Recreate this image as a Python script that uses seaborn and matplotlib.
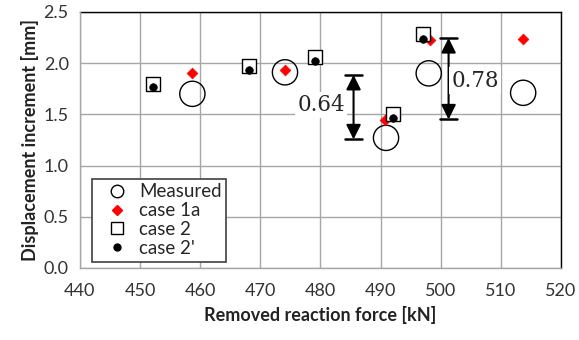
import matplotlib
matplotlib.use("Agg")
import matplotlib.pyplot as plt
import seaborn as sns
import pandas as pd
from matplotlib.lines import Line2D

# Data
measured_x = [458.7, 474.1, 490.9, 498.0, 513.7]
measured_y = [1.70, 1.91, 1.27, 1.90, 1.71]
case1a_x = [458.7, 474.1, 490.7, 498.2, 513.6]
case1a_y = [1.90, 1.93, 1.44, 2.23, 2.24]
case2_x = [452.1, 468.1, 479.1, 492.1, 497.1]
case2_y = [1.80, 1.975, 2.06, 1.50, 2.285]
case2p_x = [452.1, 468.1, 479.1, 492.1, 497.1]
case2p_y = [1.765, 1.93, 2.02, 1.46, 2.24]

arrow1_x = 485.5
arrow1_y = [1.255, 1.885]
arrow1_label = "0.64"
arrow2_x = 501.3
arrow2_y = [1.45, 2.245]
arrow2_label = "0.78"

x_ticks = [440, 450, 460, 470, 480, 490, 500, 510, 520]
y_ticks = [0.0, 0.5, 1.0, 1.5, 2.0, 2.5]

sns.set_style("white")
plt.rcParams['font.family'] = ['Lato', 'DejaVu Sans']

fig = plt.figure(figsize=(5.79, 3.40), dpi=100)
ax = fig.add_axes([0.138, 0.212, 0.831, 0.753])

grid_c = "#A6A6A6"
ax.set_xlim(440, 520)
ax.set_ylim(0, 2.5)
ax.set_xticks(x_ticks)
ax.set_yticks(y_ticks)
ax.set_yticklabels([f"{v:.1f}" for v in y_ticks])
ax.grid(True, color=grid_c, linewidth=1.0)
ax.set_axisbelow(True)

df_m = pd.DataFrame({"x": measured_x, "y": measured_y})
df_1a = pd.DataFrame({"x": case1a_x, "y": case1a_y})
df_2 = pd.DataFrame({"x": case2_x, "y": case2_y})
df_2p = pd.DataFrame({"x": case2p_x, "y": case2p_y})

sns.scatterplot(data=df_m, x="x", y="y", ax=ax, marker="o", s=330,
                facecolor="none", edgecolor="black", linewidth=1.0, zorder=3)
sns.scatterplot(data=df_1a, x="x", y="y", ax=ax, marker="D", s=30,
                color="#FF0000", edgecolor="#FF0000", linewidth=0.5, zorder=4)
sns.scatterplot(data=df_2, x="x", y="y", ax=ax, marker="s", s=100,
                facecolor="white", edgecolor="black", linewidth=1.0, zorder=5)
sns.scatterplot(data=df_2p, x="x", y="y", ax=ax, marker="o", s=30,
                color="black", edgecolor="black", linewidth=0.5, zorder=6)

# double arrows with caps
for ax_x, ys, lab, lx, ly in [(arrow1_x, arrow1_y, arrow1_label, 480.1, 1.59),
                              (arrow2_x, arrow2_y, arrow2_label, 505.7, 1.83)]:
    ax.annotate("", xy=(ax_x, ys[1]), xytext=(ax_x, ys[0]),
                arrowprops=dict(arrowstyle="<|-|>", color="black", lw=1.5,
                                mutation_scale=22, shrinkA=0, shrinkB=0), zorder=7)
    for yy in ys:
        ax.plot([ax_x - 1.4, ax_x + 1.4], [yy, yy], color="black", lw=1.8, zorder=7)
    ax.text(lx, ly, lab, ha="center", va="center", fontsize=15.5,
            family=["DejaVu Serif"], zorder=8,
            bbox=dict(facecolor="white", edgecolor="none", pad=1.5))

for side in ["left", "bottom"]:
    ax.spines[side].set_color(grid_c)
    ax.spines[side].set_linewidth(1.0)
for side in ["top", "right"]:
    ax.spines[side].set_color("black")
    ax.spines[side].set_linewidth(1.0)
    ax.spines[side].set_zorder(2)

ax.tick_params(axis="both", which="major", direction="out", length=5,
               color=grid_c, labelsize=13, labelcolor="#333333", pad=3)
ax.tick_params(axis="x", pad=6)
ax.set_xlabel("Removed reaction force [kN]", fontsize=13, fontweight="bold",
              color="#222222", labelpad=5)
ax.set_ylabel("Displacement increment [mm]", fontsize=13, fontweight="bold",
              color="#222222", labelpad=3)

handles = [
    Line2D([], [], linestyle="none", marker="o", markersize=9, markerfacecolor="none",
           markeredgecolor="black", markeredgewidth=1.0, label="Measured"),
    Line2D([], [], linestyle="none", marker="D", markersize=5, markerfacecolor="#FF0000",
           markeredgecolor="#FF0000", label="case 1a"),
    Line2D([], [], linestyle="none", marker="s", markersize=9, markerfacecolor="white",
           markeredgecolor="black", markeredgewidth=1.0, label="case 2"),
    Line2D([], [], linestyle="none", marker="o", markersize=5, markerfacecolor="black",
           markeredgecolor="black", label="case 2'"),
]
leg = ax.legend(handles=handles, loc="lower left", bbox_to_anchor=(0.025, 0.025),
                frameon=True, fancybox=False, fontsize=13.5, handlelength=2.2,
                handletextpad=0.05, borderpad=0.25, labelspacing=0.1,
                borderaxespad=0.0)
leg.get_frame().set_edgecolor("#404040")
leg.get_frame().set_linewidth(1.2)
leg.get_frame().set_alpha(1.0)
leg.set_zorder(10)

fig.savefig("out.png", dpi=100)
